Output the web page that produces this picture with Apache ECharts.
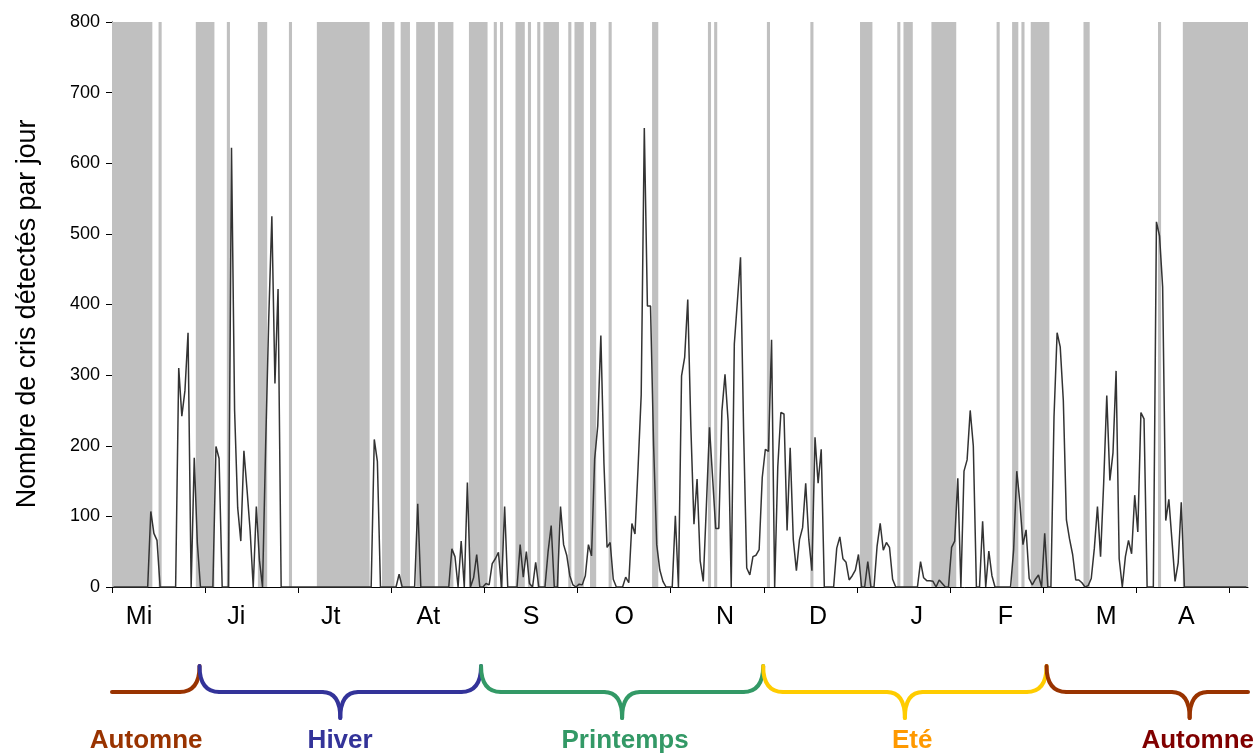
<!DOCTYPE html>
<html><head><meta charset="utf-8">
<script src="https://cdn.jsdelivr.net/npm/echarts@6/dist/echarts.min.js"></script>
<style>html,body{margin:0;padding:0;background:#fff}#c{width:1253px;height:754px}</style>
</head><body><div id="c"></div>
<script>
// ---- DATA ----
// daily call counts, one value per day (366 days, from May to April)
const dailyCalls = [
  0,0,0,0,0,0,0,0,0,0,
  0,0,107,76,66,0,0,0,0,0,
  0,310,242,278,360,0,183,62,0,0,
  0,0,0,199,182,0,0,0,622,250,
  112,65,193,138,80,0,114,38,0,200,
  380,525,288,422,0,0,0,0,0,0,
  0,0,0,0,0,0,0,0,0,0,
  0,0,0,0,0,0,0,0,0,0,
  0,0,0,0,209,178,0,0,0,0,
  0,0,18,0,0,0,0,0,118,0,
  0,0,0,0,0,0,0,0,0,54,
  43,0,65,0,148,0,13,46,0,0,
  5,3,33,40,49,0,114,0,0,0,
  0,60,14,50,5,0,35,0,0,0,
  50,87,0,0,114,60,45,16,3,0,
  4,3,16,60,44,181,228,356,175,56,
  63,11,0,0,0,14,6,90,75,170,
  272,650,398,398,200,60,24,8,0,0,
  0,101,0,299,325,407,226,89,153,37,
  8,115,226,155,83,83,249,301,235,0,
  344,405,467,220,27,17,43,45,53,155,
  195,192,350,0,170,247,245,80,197,67,
  23,67,84,147,67,23,212,147,195,0,
  0,0,0,55,71,40,35,10,16,24,
  46,0,0,36,0,0,58,90,52,63,
  56,11,0,0,0,0,0,0,0,0,
  36,13,9,9,8,0,10,5,0,0,
  56,65,154,0,164,180,250,200,0,0,
  93,0,51,16,0,0,0,0,0,0,
  53,164,120,60,81,12,3,11,17,0,
  76,0,0,241,360,340,264,95,68,46,
  10,10,6,0,2,12,55,114,43,147,
  271,151,190,306,40,0,43,66,47,130,
  78,247,238,0,0,0,517,497,425,94,
  124,66,8,34,120,0,0,0,0,0,
  0,0,0,0,0,0,0,0,0,0,
  0,0,0,0,0,0
];
// shaded periods [startDay, endDay)
const grayRanges = [
  [0,13],[15,16],[27,33],[37,38],[47,50],[57,58],[66,83],[87,91],[93,96],[98,104],
  [105,110],[115,121],[123,124],[125,126],[130,133],[134,135],[137,138],[139,144],
  [147,148],[149,152],[154,156],[160,161],[174,176],[192,193],[194,195],[211,212],
  [225,226],[241,245],[253,254],[255,258],[264,272],[285,286],[290,292],[293,294],
  [296,302],[313,315],[337,338],[345,366]
];
const totalDays = 366;
const tickDays = [0,30,60,90,120,150,180,210,240,270,300,330,360];
const monthLabels = ['Mi','Ji','Jt','At','S','O','N','D','J','F','M','A'];
const monthLabelDays = [8.7,40.0,70.5,101.9,135.0,165.0,197.5,227.5,259.3,287.8,320.3,346.1];
const yMax = 800, yStep = 100;
const yTitle = 'Nombre de cris détectés par jour';
// seasons: brace boundaries (days) and label positions (days)
const seasonNames = ['Automne','Hiver','Printemps','Eté','Automne'];
const seasonStart = [-62.9, 28.2, 118.9, 209.8, 301.1];
const seasonEnd   = [28.2, 118.9, 209.8, 301.1, 393.3];
const seasonLabelDays = [11.0, 73.5, 165.3, 257.8, 349.8];
const seasonBraceColors = ['#993300','#333399','#339966','#FFCC00','#993300'];
const seasonTextColors  = ['#993300','#333399','#339966','#FF9900','#800000'];

// ---- CHART ----
const FONT = '"Liberation Sans", Arial, sans-serif';
const chart = echarts.init(document.getElementById('c'), null, {renderer:'canvas'});
const lineData = dailyCalls.map((v,i) => [i + 0.5, v]);

chart.setOption({
  animation: false,
  backgroundColor: '#fff',
  grid: {left:112, right:5, top:22, bottom:167, containLabel:false},
  xAxis: {
    type:'value', min:0, max:totalDays,
    axisLine:{show:true, lineStyle:{color:'#000', width:1}},
    axisTick:{show:true, inside:false, length:6, customValues:tickDays, lineStyle:{color:'#000'}},
    axisLabel:{show:true, customValues:monthLabelDays, margin:18,
      fontFamily:FONT, fontSize:25, color:'#000',
      formatter:(v)=>{ const k = monthLabelDays.findIndex(d=>Math.abs(d-v)<1e-6); return k>=0?monthLabels[k]:''; }},
    splitLine:{show:false}
  },
  yAxis: {
    type:'value', min:0, max:yMax, interval:yStep,
    axisLine:{show:true, lineStyle:{color:'#000', width:1}},
    axisTick:{show:true, inside:false, length:6, lineStyle:{color:'#000'}},
    axisLabel:{fontFamily:FONT, fontSize:18, color:'#000', margin:12},
    splitLine:{show:false}
  },
  series: [
    {
      type:'custom', name:'shade', z:1, silent:true, clip:true,
      data: grayRanges,
      encode:{x:[0,1]},
      renderItem:(params, api)=>{
        const p0 = api.coord([api.value(0), yMax]);
        const p1 = api.coord([api.value(1), 0]);
        return {type:'rect', shape:{x:p0[0], y:p0[1], width:p1[0]-p0[0], height:p1[1]-p0[1]},
                style:{fill:'#C0C0C0'}};
      }
    },
    {
      type:'line', name:'cris', z:3, data: lineData, showSymbol:false, clip:false,
      lineStyle:{color:'#333', width:1.5}, silent:true
    }
  ]
});

// ---- season braces & labels ----
function px(day){ return chart.convertToPixel({xAxisIndex:0}, day); }
const xL = px(0), xR = px(totalDays);
const TOP = 666, MID = 692, TIP = 718, R = 20, RT = 18;
const graphics = [];
function seg(type, shape, color){ graphics.push({type, shape, style:{stroke:color, lineWidth:4, fill:null, lineCap:'round'}, silent:true}); }
for (let k=0;k<seasonNames.length;k++){
  const c = seasonBraceColors[k];
  const x1 = px(seasonStart[k]), x2 = px(seasonEnd[k]);
  const m = (x1+x2)/2;
  // left half
  if (m - RT > xL) {
    let hs;
    if (x1 >= xL) {
      seg('bezierCurve', {x1:x1, y1:TOP, x2:x1+R, y2:MID, cpx1:x1, cpy1:MID}, c);
      hs = x1+R;
    } else hs = xL;
    seg('line', {x1:hs, y1:MID, x2:m-RT, y2:MID}, c);
    seg('bezierCurve', {x1:m-RT, y1:MID, x2:m, y2:TIP, cpx1:m, cpy1:MID}, c);
  }
  // right half
  if (m < xR) {
    if (m >= xL) seg('bezierCurve', {x1:m, y1:TIP, x2:m+RT, y2:MID, cpx1:m, cpy1:MID}, c);
    const hs = Math.max(m+RT, xL);
    if (x2 <= xR) {
      seg('line', {x1:hs, y1:MID, x2:x2-R, y2:MID}, c);
      seg('bezierCurve', {x1:x2-R, y1:MID, x2:x2, y2:TOP, cpx1:x2, cpy1:MID}, c);
    } else {
      seg('line', {x1:hs, y1:MID, x2:xR, y2:MID}, c);
    }
  }
  graphics.push({type:'text', silent:true, x:px(seasonLabelDays[k]), y:741,
    style:{text:seasonNames[k], fill:seasonTextColors[k], font:'bold 26px '+FONT, align:'center', verticalAlign:'middle'}});
}
graphics.push({type:'text', silent:true, x:28, y:314, rotation:Math.PI/2,
  style:{text:yTitle, fill:'#000', font:'26.8px '+FONT, align:'center', verticalAlign:'middle'}});
chart.setOption({graphic: graphics});
</script>
</body></html>
